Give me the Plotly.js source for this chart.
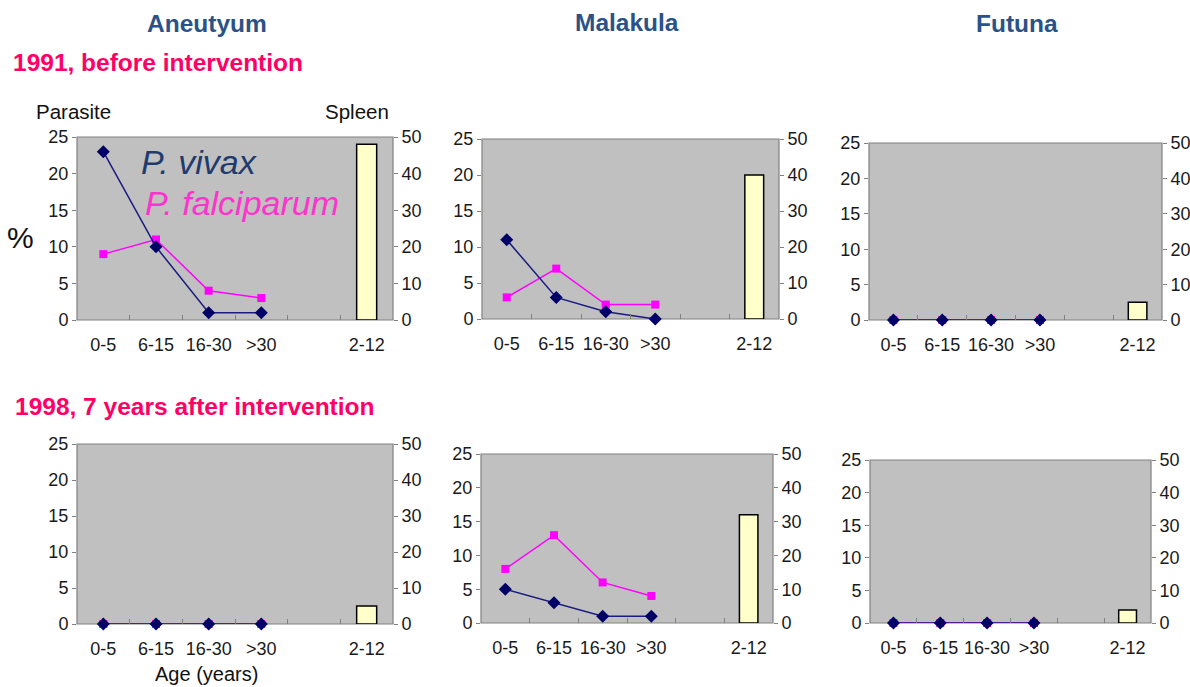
<!DOCTYPE html>
<html>
<head>
<meta charset="utf-8">
<script src="https://cdn.plot.ly/plotly-3.0.1.min.js"></script>
<style>html,body{margin:0;padding:0;background:#fff;}#chart{width:1190px;height:687px;}</style>
</head>
<body>
<div id="chart"></div>
<script>
// ---- data ----
var ageGroups = ["0-5", "6-15", "16-30", ">30"];
var gapCategory = " ";
var spleenGroups = ["2-12"];
var islands = ["Aneutyum", "Malakula", "Futuna"];
var periods = ["1991, before intervention", "1998, 7 years after intervention"];

var aneutyum1991Vivax = [23, 10, 1, 1];
var aneutyum1991Falciparum = [9, 11, 4, 3];
var aneutyum1991Spleen = [48];

var malakula1991Vivax = [11, 3, 1, 0];
var malakula1991Falciparum = [3, 7, 2, 2];
var malakula1991Spleen = [40];

var futuna1991Vivax = [0, 0, 0, 0];
var futuna1991Falciparum = [0, 0, 0, 0];
var futuna1991Spleen = [5];

var aneutyum1998Vivax = [0, 0, 0, 0];
var aneutyum1998Falciparum = [0, 0, 0, 0];
var aneutyum1998Spleen = [5];

var malakula1998Vivax = [5, 3, 1, 1];
var malakula1998Falciparum = [8, 13, 6, 4];
var malakula1998Spleen = [32];

var futuna1998Vivax = [0, 0, 0, 0];
var futuna1998Falciparum = [0, 0, 0, 0];
var futuna1998Spleen = [4];

var parasiteTicks = [0, 5, 10, 15, 20, 25];
var spleenTicks = [0, 10, 20, 30, 40, 50];

// ---- layout geometry (pixels of a 1190x687 page) ----
var W = 1190, H = 687;
var panels = [
  {vivax: aneutyum1991Vivax, falc: aneutyum1991Falciparum, spleen: aneutyum1991Spleen, px: [77, 393], py: [137, 320]},
  {vivax: malakula1991Vivax, falc: malakula1991Falciparum, spleen: malakula1991Spleen, px: [482, 779], py: [139, 319]},
  {vivax: futuna1991Vivax, falc: futuna1991Falciparum, spleen: futuna1991Spleen, px: [869, 1162], py: [143, 320]},
  {vivax: aneutyum1998Vivax, falc: aneutyum1998Falciparum, spleen: aneutyum1998Spleen, px: [77, 393], py: [444, 624]},
  {vivax: malakula1998Vivax, falc: malakula1998Falciparum, spleen: malakula1998Spleen, px: [481, 773], py: [454, 623]},
  {vivax: futuna1998Vivax, falc: futuna1998Falciparum, spleen: futuna1998Spleen, px: [870, 1151], py: [460, 623]}
];

var FONT = "Liberation Sans, Arial, sans-serif";
var TICKFONT = {family: FONT, size: 18, color: "#1a1a1a"};
var allCats = ageGroups.concat([gapCategory]).concat(spleenGroups);
var traces = [];
var layout = {
  width: W, height: H,
  margin: {l: 0, r: 0, t: 0, b: 0},
  paper_bgcolor: "#ffffff",
  plot_bgcolor: "rgba(0,0,0,0)",
  showlegend: false,
  font: {family: FONT, size: 18, color: "#1a1a1a"},
  annotations: [],
  shapes: []
};

panels.forEach(function (p, i) {
  var n = i + 1;
  var xa = n === 1 ? "x" : "x" + n;
  var ylIdx = 2 * n - 1, yrIdx = 2 * n;
  var yl = ylIdx === 1 ? "y" : "y" + ylIdx;
  var yr = "y" + yrIdx;
  var xDom = [p.px[0] / W, p.px[1] / W];
  var yDom = [1 - p.py[1] / H, 1 - p.py[0] / H];

  // grey plot background with border
  layout.shapes.push({type: "rect", xref: xa + " domain", yref: yl + " domain", x0: 0, x1: 1, y0: 0, y1: 1,
    fillcolor: "#c0c0c0", line: {color: "#808080", width: 1.2}, layer: "below"});

  traces.push({type: "bar", x: spleenGroups, y: p.spleen, xaxis: xa, yaxis: yr, width: 0.38,
    marker: {color: "#ffffcc", line: {color: "#000000", width: 1.5}}, hoverinfo: "y"});
  traces.push({type: "scatter", mode: "lines+markers", x: ageGroups, y: p.falc, xaxis: xa, yaxis: yl,
    line: {color: "#ff00ff", width: 1.5}, marker: {symbol: "square", size: 8, color: "#ff00ff"}, cliponaxis: false});
  traces.push({type: "scatter", mode: "lines+markers", x: ageGroups, y: p.vivax, xaxis: xa, yaxis: yl,
    line: {color: "#1a1a80", width: 1.5}, marker: {symbol: "diamond", size: 10, color: "#000066"}, cliponaxis: false});

  layout[n === 1 ? "xaxis" : "xaxis" + n] = {
    domain: xDom, anchor: yl, type: "category",
    categoryorder: "array", categoryarray: allCats,
    range: [-0.5, allCats.length - 0.5],
    tickson: "boundaries", ticks: "inside", ticklen: 5, tickcolor: "#808080", tickwidth: 1,
    tickangle: 0,
    showgrid: false, zeroline: false, showline: false,
    ticklabelstandoff: 12, tickfont: TICKFONT, fixedrange: true
  };
  layout[ylIdx === 1 ? "yaxis" : "yaxis" + ylIdx] = {
    domain: yDom, anchor: xa, range: [0, 25], tickvals: parasiteTicks,
    ticks: "outside", ticklen: 4, tickcolor: "#808080",
    showgrid: false, zeroline: false, showline: false,
    tickfont: TICKFONT, fixedrange: true
  };
  layout["yaxis" + yrIdx] = {
    overlaying: yl, anchor: xa, side: "right", range: [0, 50], tickvals: spleenTicks,
    ticks: "outside", ticklen: 4, tickcolor: "#808080",
    showgrid: false, zeroline: false, showline: false,
    tickfont: TICKFONT, fixedrange: true
  };
});

function ann(text, px, py, opts) {
  var a = {text: text, x: px / W, y: 1 - py / H, xref: "paper", yref: "paper",
    showarrow: false, xanchor: "center", yanchor: "middle",
    font: {family: FONT, size: 18, color: "#1a1a1a"}};
  for (var k in opts) a[k] = opts[k];
  layout.annotations.push(a);
}
var titleFont = {family: FONT, size: 24.5, color: "#2b5287"};
ann("<b>" + islands[0] + "</b>", 207, 24, {font: titleFont});
ann("<b>" + islands[1] + "</b>", 627, 22, {font: titleFont});
ann("<b>" + islands[2] + "</b>", 1017, 24, {font: titleFont});
var periodFont = {family: FONT, size: 24.5, color: "#ff0066"};
ann("<b>" + periods[0] + "</b>", 11, 62, {xanchor: "left", font: periodFont});
ann("<b>" + periods[1] + "</b>", 13, 406, {xanchor: "left", font: periodFont});
ann("Parasite", 73, 111, {font: {family: FONT, size: 20.5, color: "#111"}});
ann("Spleen", 357, 111, {font: {family: FONT, size: 20.5, color: "#111"}});
ann("%", 20, 237, {font: {family: FONT, size: 30, color: "#111"}});
ann("Age (years)", 206, 686, {yanchor: "bottom", yshift: 0, borderpad: 0,
  font: {family: FONT, size: 20, color: "#111"}});
ann("<i>P. vivax</i>", 139, 162, {xanchor: "left", font: {family: FONT, size: 34, color: "#1f3b6e"}});
ann("<i>P. falciparum</i>", 143, 203, {xanchor: "left", font: {family: FONT, size: 34, color: "#ff33cc"}});

Plotly.newPlot("chart", traces, layout, {staticPlot: true});
</script>
</body>
</html>
